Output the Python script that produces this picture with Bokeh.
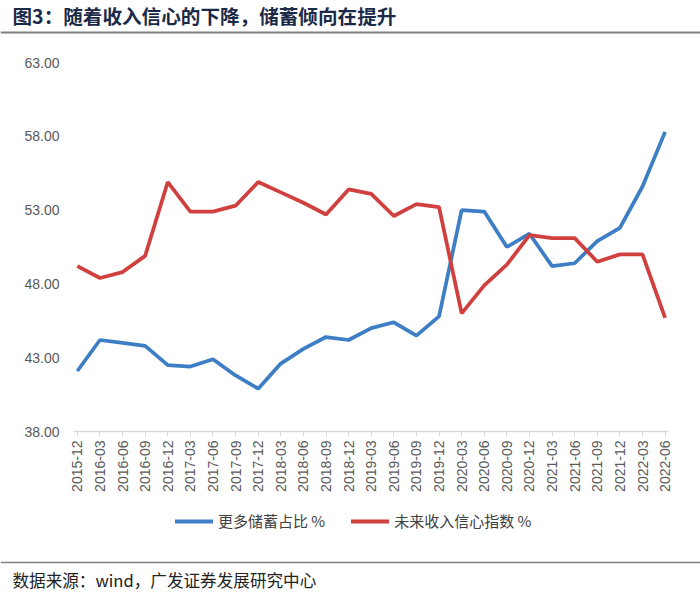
import math
from bokeh.plotting import figure
from bokeh.layouts import column, row
from bokeh.models import (Range1d, FixedTicker, NumeralTickFormatter, Legend, LegendItem)
from bokeh.core.properties import value
from bokeh.embed import file_html
from bokeh.resources import INLINE

categories = ["2015-12", "2016-03", "2016-06", "2016-09", "2016-12", "2017-03", "2017-06",
              "2017-09", "2017-12", "2018-03", "2018-06", "2018-09", "2018-12", "2019-03",
              "2019-06", "2019-09", "2019-12", "2020-03", "2020-06", "2020-09", "2020-12",
              "2021-03", "2021-06", "2021-09", "2021-12", "2022-03", "2022-06"]

savings_more = [42.1, 44.2, 44.0, 43.8, 42.5, 42.4, 42.9, 41.8, 40.9, 42.6, 43.6, 44.4,
                44.2, 45.0, 45.4, 44.5, 45.8, 53.0, 52.9, 50.5, 51.4, 49.2, 49.4, 50.9,
                51.8, 54.6, 58.3]

income_confidence = [49.2, 48.4, 48.8, 49.9, 54.9, 52.9, 52.9, 53.3, 54.9, 54.2, 53.5, 52.7,
                     54.4, 54.1, 52.6, 53.4, 53.2, 46.0, 47.9, 49.3, 51.3, 51.1, 51.1, 49.5,
                     50.0, 50.0, 45.7]

y_ticks = [38, 43, 48, 53, 58, 63]

series_names = ["更多储蓄占比 %", "未来收入信心指数 %"]
title_text = "图3：随着收入信心的下降，储蓄倾向在提升"
source_text = "数据来源：wind，广发证券发展研究中心"

BLUE = "#3D7EC4"
RED = "#D0403F"
FONT = "Liberation Sans, Noto Sans CJK SC"
CJK = "Noto Sans CJK SC, Liberation Sans"
W = 700
LEFT, RIGHT = 73, 32


def blank(height, left=0, right=0):
    f = figure(width=W, height=height, output_backend="svg", toolbar_location=None,
               title=None,
               x_range=Range1d(0, W - left - right), y_range=Range1d(height, 0),
               x_axis_location=None, y_axis_location=None,
               min_border_left=left, min_border_right=right,
               min_border_top=0, min_border_bottom=0)
    f.grid.visible = False
    f.outline_line_color = None
    return f


# header
head = blank(40)
head.text(x=[12], y=[15], text=[title_text], text_font=value(CJK), text_font_size="19.6px",
          text_font_style="bold", text_color="#1B2A48", text_baseline="middle")
head.segment(x0=[0], y0=[32], x1=[W], y1=[32], line_color="#808080", line_width=2)

# main chart
x = list(range(len(categories)))
p = figure(width=W, height=465, output_backend="svg", toolbar_location=None,
           x_range=Range1d(-0.17, len(categories) - 1 + 0.15),
           y_range=Range1d(y_ticks[0], y_ticks[-1]),
           min_border_left=LEFT, min_border_right=RIGHT, min_border_top=22, min_border_bottom=74)
p.outline_line_color = None
p.grid.visible = False

p.line(x, savings_more, line_color=BLUE, line_width=3.75)
p.line(x, income_confidence, line_color=RED, line_width=3.75)

ya = p.yaxis[0]
ya.ticker = FixedTicker(ticks=y_ticks)
ya.formatter = NumeralTickFormatter(format="0.00")
ya.axis_line_color = None
ya.major_tick_line_color = None
ya.minor_tick_line_color = None
ya.major_label_standoff = 8
ya.major_label_text_font = FONT
ya.major_label_text_font_size = "14px"
ya.major_label_text_color = "#595959"

xa = p.xaxis[0]
xa.ticker = FixedTicker(ticks=x)
xa.major_label_overrides = {i: c for i, c in zip(x, categories)}
xa.major_label_orientation = math.pi / 2
xa.axis_line_color = "#D9D9D9"
xa.axis_line_width = 1.5
xa.major_tick_line_color = "#D9D9D9"
xa.major_tick_in = 0
xa.major_tick_out = 5
xa.minor_tick_line_color = None
xa.major_label_standoff = 4
xa.major_label_text_font = FONT
xa.major_label_text_font_size = "14px"
xa.major_label_text_color = "#595959"

# legend row (proxy renderers carry the series styles; they draw nothing)
lf = blank(35, LEFT, RIGHT)
g1 = lf.line(x=[float("nan")], y=[float("nan")], line_color=BLUE, line_width=4, line_cap="round")
g2 = lf.line(x=[float("nan")], y=[float("nan")], line_color=RED, line_width=4, line_cap="round")
legend = Legend(items=[LegendItem(label=series_names[0], renderers=[g1]),
                       LegendItem(label=series_names[1], renderers=[g2])],
                orientation="horizontal", location=(102, 9),
                padding=0, margin=0, spacing=26, glyph_width=38, glyph_height=20,
                label_standoff=5, border_line_color=None, background_fill_alpha=0,
                label_text_font=CJK, label_text_font_size="15px", label_text_color="#404040")
lf.add_layout(legend, "center")

# footer
foot = blank(55)
foot.segment(x0=[0], y0=[22], x1=[W], y1=[22], line_color="#808080", line_width=1.5)
foot.text(x=[12], y=[39], text=[source_text], text_font=value(CJK), text_font_size="16.6px",
          text_color="#222222", text_baseline="middle")

layout = column(row(head), p, lf, row(foot), spacing=0)
open("out.html", "w").write(file_html(layout, INLINE))
